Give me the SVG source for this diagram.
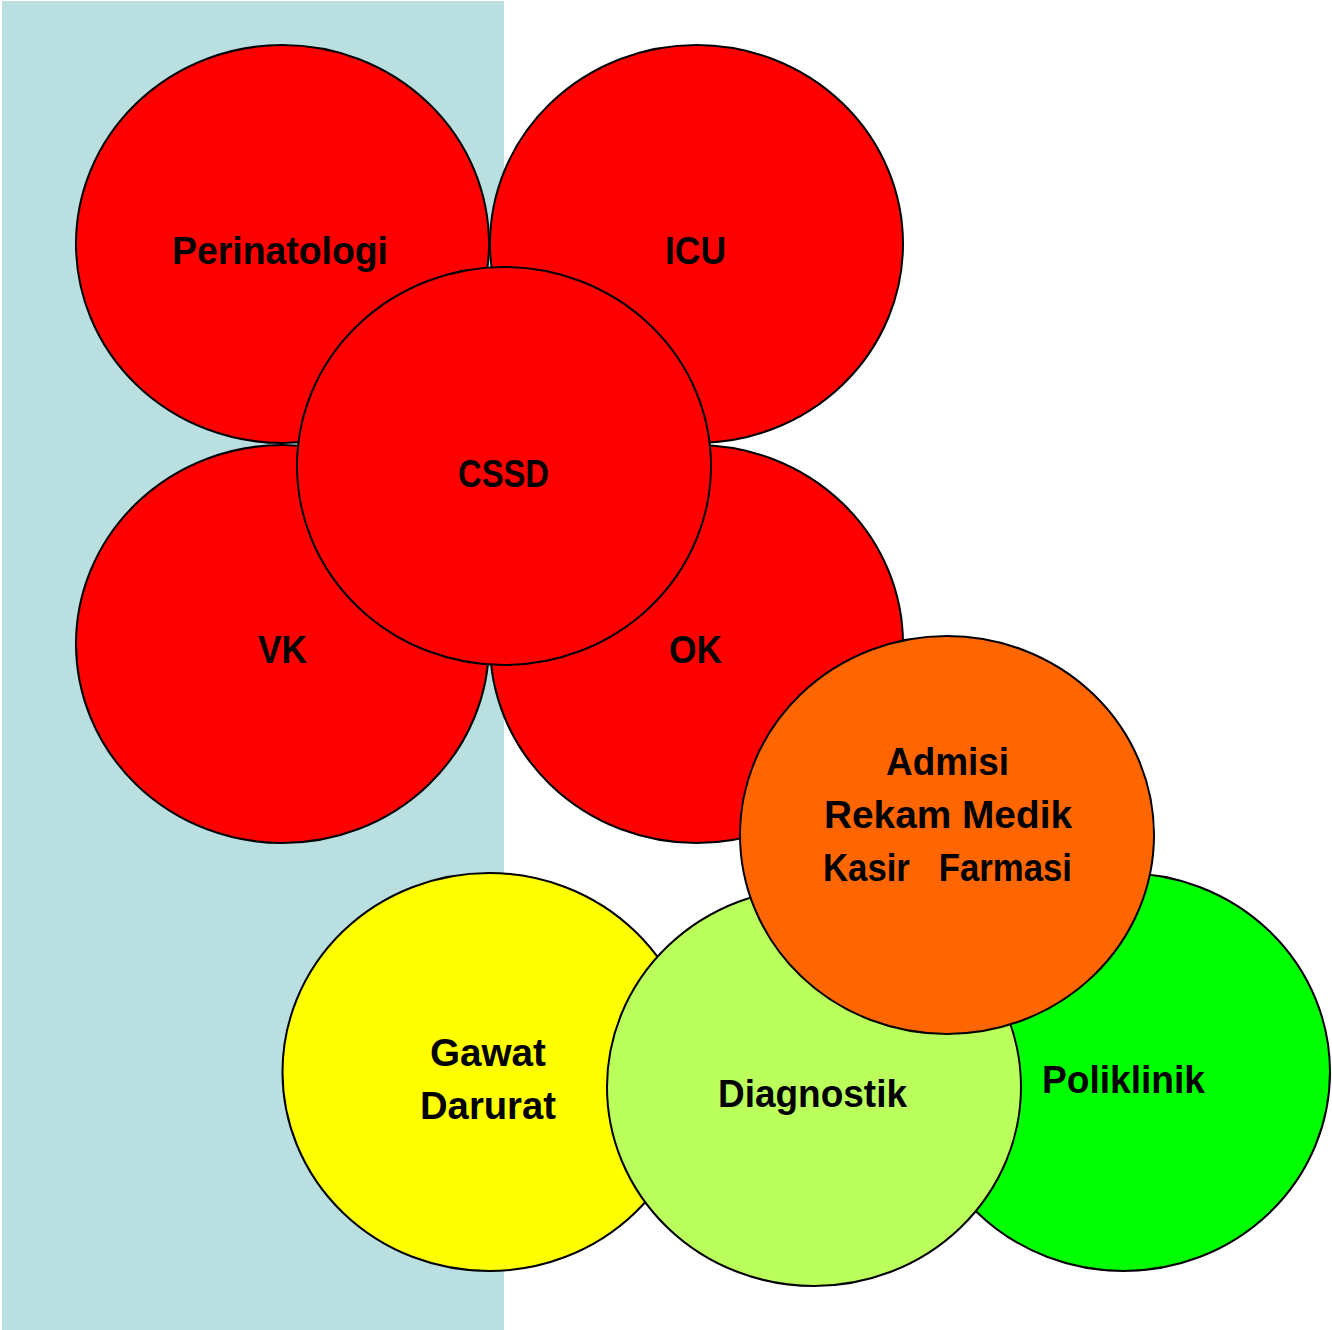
<svg xmlns="http://www.w3.org/2000/svg" width="1332" height="1330" viewBox="0 0 1332 1330">
<style>
.n{stroke:#000;stroke-width:2}
.t{font-family:"Liberation Sans",Arial,sans-serif;font-weight:bold;font-size:38px;fill:#000;text-anchor:middle}
</style>
<rect x="0" y="0" width="1332" height="1330" fill="#fff"/>
<rect x="2" y="1" width="502" height="1329" fill="#B9DFE1"/>
<g id="connectors"></g>
<g id="perinatologi"><ellipse class="n" cx="282.5" cy="244" rx="206.5" ry="199" fill="#FF0000"/><text class="t" x="280" y="264" textLength="216" lengthAdjust="spacingAndGlyphs">Perinatologi</text></g>
<g id="icu"><ellipse class="n" cx="696.5" cy="244" rx="206.5" ry="199" fill="#FF0000"/><text class="t" x="695.5" y="264" textLength="61" lengthAdjust="spacingAndGlyphs">ICU</text></g>
<g id="vk"><ellipse class="n" cx="282.5" cy="644" rx="206.5" ry="199" fill="#FF0000"/><text class="t" x="282.5" y="663" textLength="49" lengthAdjust="spacingAndGlyphs">VK</text></g>
<g id="ok"><ellipse class="n" cx="696.5" cy="644" rx="206.5" ry="199" fill="#FF0000"/><text class="t" x="695.5" y="663" textLength="53" lengthAdjust="spacingAndGlyphs">OK</text></g>
<g id="cssd"><ellipse class="n" cx="504" cy="466" rx="207" ry="199" fill="#FF0000"/><text class="t" x="503.5" y="487" textLength="91" lengthAdjust="spacingAndGlyphs">CSSD</text></g>
<g id="gawat-darurat"><ellipse class="n" cx="489" cy="1072" rx="206.5" ry="199" fill="#FFFF00"/><text class="t" x="488" y="1066" textLength="116" lengthAdjust="spacingAndGlyphs">Gawat</text><text class="t" x="488" y="1119" textLength="136" lengthAdjust="spacingAndGlyphs">Darurat</text></g>
<g id="poliklinik"><ellipse class="n" cx="1123.5" cy="1072" rx="206.5" ry="199" fill="#00FF00"/><text class="t" x="1123.5" y="1093" textLength="163" lengthAdjust="spacingAndGlyphs">Poliklinik</text></g>
<g id="diagnostik"><ellipse class="n" cx="814" cy="1087" rx="207" ry="199" fill="#BBFF5D"/><text class="t" x="812.5" y="1107" textLength="189" lengthAdjust="spacingAndGlyphs">Diagnostik</text></g>
<g id="admisi"><ellipse class="n" cx="947" cy="835" rx="207" ry="199" fill="#FF6600"/><text class="t" x="947.5" y="775" textLength="123" lengthAdjust="spacingAndGlyphs">Admisi</text><text class="t" x="948" y="828" textLength="248" lengthAdjust="spacingAndGlyphs">Rekam Medik</text><text class="t" x="947.5" y="881" textLength="249" lengthAdjust="spacingAndGlyphs" xml:space="preserve">Kasir   Farmasi</text></g>
</svg>
